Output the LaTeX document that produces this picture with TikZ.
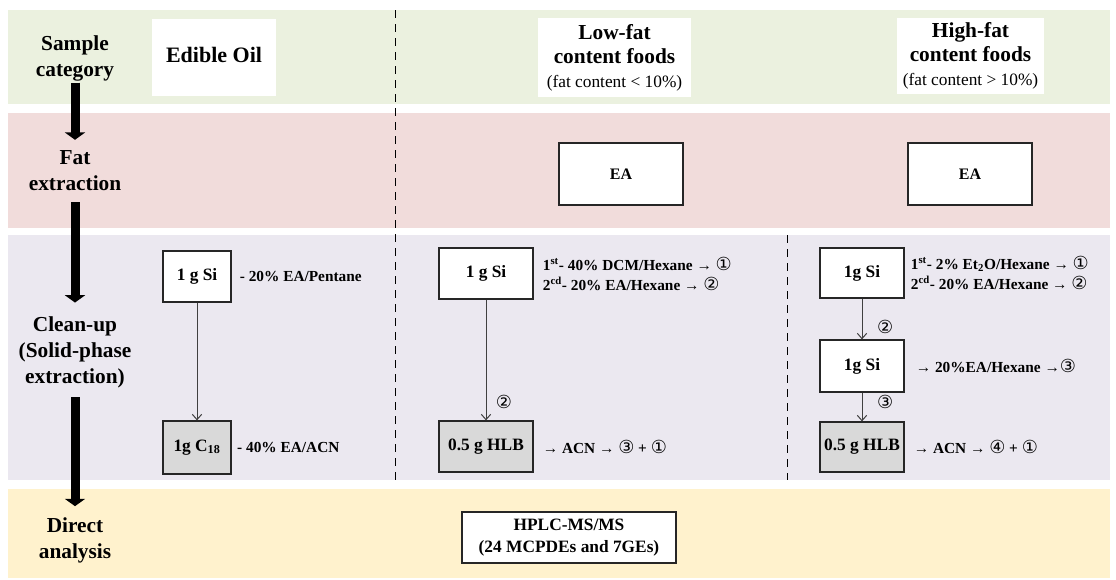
\documentclass[tikz,border=0pt]{standalone}
\usepackage{fontspec}
\setmainfont{Liberation Serif}
\newfontfamily\circfont{DejaVu Sans}
\usetikzlibrary{calc,positioning,arrows.meta}

\definecolor{bandgreen}{RGB}{235,241,223}
\definecolor{bandred}{RGB}{241,220,219}
\definecolor{bandpurple}{RGB}{235,232,240}
\definecolor{bandyellow}{RGB}{255,242,205}
\definecolor{boxgrey}{RGB}{217,217,217}

\newcommand{\cnum}[1]{{\circfont\mdseries\fontsize{13.5}{15}\selectfont #1}}

\tikzset{
  box/.style={draw=black!85,line width=0.9pt,fill=white,align=center,
    font=\bfseries\fontsize{13}{16.5}\selectfont},
  greybox/.style={box,fill=boxgrey},
  headbox/.style={fill=white,align=center,font=\bfseries\fontsize{16}{18}\selectfont},
  stage/.style={align=center,font=\bfseries\fontsize{16}{19.5}\selectfont},
  sidetxt/.style={align=left,inner sep=0pt,font=\bfseries\fontsize{11.5}{15}\selectfont},
  bigarrow/.style={line width=6.75pt,-{Triangle[width=15pt,length=5.5pt]}},
  thinarrow/.style={draw=black!75,line width=0.75pt,-{Straight Barb[length=4pt,width=7pt]}},
  colsep/.style={line width=0.75pt,dash pattern=on 6pt off 4.5pt}
}

\begin{document}
\begin{tikzpicture}[x=0.75pt,y=-0.75pt,inner sep=0.4mm]
\useasboundingbox (0,0) rectangle (1116,579);

% bands
\fill[bandgreen] (8,10) rectangle (1110,104);
\fill[bandred] (8,113) rectangle (1110,228);
\fill[bandpurple] (8,235) rectangle (1110,480);
\fill[bandyellow] (8,489) rectangle (1110,578);

\draw[colsep] (395,10) -- (395,480);
\draw[colsep] (787,235) -- (787,480);

% stages
\node (sample) at (75,58) [stage] {Sample\\category};
\node (fat) at (75,171) [stage] {Fat\\extraction};
\node (clean) at (75,352) [stage] {Clean-up\\(Solid-phase\\extraction)};
\node (direct) at (75,540) [stage] {Direct\\analysis};

\draw[bigarrow,shorten <=0pt,shorten >=7pt] (sample) -- (fat);
\draw[bigarrow,shorten <=7pt,shorten >=9pt] (fat) -- (clean);
\draw[bigarrow,shorten <=6pt,shorten >=7pt] (clean) -- (direct);

% sample category
\node (oil) at (214,57.5) [headbox,minimum width=93pt,minimum height=57.75pt,
  font=\bfseries\fontsize{16.5}{20}\selectfont] {Edible Oil\vphantom{g}};
\node (low) at (614.5,57.5) [headbox,minimum width=114.75pt,minimum height=59.25pt]
  {Low-fat\\content foods\\{\mdseries\fontsize{13}{17}\selectfont (fat content < 10\%)}};
\node (high) at (970.5,56) [headbox,minimum width=110.25pt,minimum height=57pt]
  {High-fat\\content foods\\{\mdseries\fontsize{13}{17}\selectfont (fat content > 10\%)}};

% fat extraction
\node (ea1) at (621,174) [box,minimum width=93pt,minimum height=46.5pt,
  font=\bfseries\fontsize{12}{14}\selectfont] {EA};
\node (ea2) at (970,174) [box,minimum width=93pt,minimum height=46.5pt,
  font=\bfseries\fontsize{12}{14}\selectfont] {EA};

% clean-up, edible oil
\node (si1) at (197,276.5) [box,minimum width=51pt,minimum height=38.25pt] {1 g Si};
\node (c18) at (197,447.5) [greybox,minimum width=51pt,minimum height=39.75pt] {1g C\textsubscript{18}};
\node (t1) [sidetxt,right=6pt of si1] {- 20\% EA/Pentane};
\node (t2) [sidetxt,right=4pt of c18] {- 40\% EA/ACN};
\draw[thinarrow] (si1) -- (c18);

% clean-up, low-fat
\node (si2) at (486,273.5) [box,minimum width=70.5pt,minimum height=38.25pt] {1 g Si};
\node (hlb2) at (486,446.5) [greybox,minimum width=70.5pt,minimum height=38.25pt] {0.5 g HLB};
\node (t3) [sidetxt,right=6.75pt of si2]
  {1\textsuperscript{st}- 40\% DCM/Hexane → \cnum{①}\\2\textsuperscript{cd}- 20\% EA/Hexane → \cnum{②}};
\node (t4) [sidetxt,right=6.75pt of hlb2] {→ ACN → \cnum{③} + \cnum{①}};
\draw[thinarrow] (si2) -- node[pos=0.85,right=7pt,inner sep=0pt] {\cnum{②}} (hlb2);

% clean-up, high-fat
\node (si3) at (862,273) [box,minimum width=63pt,minimum height=37.5pt] {1g Si};
\node (si4) at (862,366) [box,minimum width=63pt,minimum height=39pt] {1g Si};
\node (hlb3) at (862,447) [greybox,minimum width=63pt,minimum height=37.5pt] {0.5 g HLB};
\node (t5) [sidetxt,right=4.5pt of si3]
  {1\textsuperscript{st}- 2\% Et\textsubscript{2}O/Hexane → \cnum{①}\\2\textsuperscript{cd}- 20\% EA/Hexane → \cnum{②}};
\node (t6) [sidetxt,right=8.25pt of si4] {→ 20\%EA/Hexane →\cnum{③}};
\node (t7) [sidetxt,right=6.75pt of hlb3] {→ ACN → \cnum{④} + \cnum{①}};
\draw[thinarrow] (si3) -- node[pos=0.69,right=11pt,inner sep=0pt] {\cnum{②}} (si4);
\draw[thinarrow] (si4) -- node[pos=0.33,right=11pt,inner sep=0pt] {\cnum{③}} (hlb3);

% direct analysis
\node (hplc) at (569,537.5) [box,minimum width=160.5pt,minimum height=38.25pt]
  {HPLC-MS/MS\\(24 MCPDEs and 7GEs)};

\end{tikzpicture}
\end{document}
